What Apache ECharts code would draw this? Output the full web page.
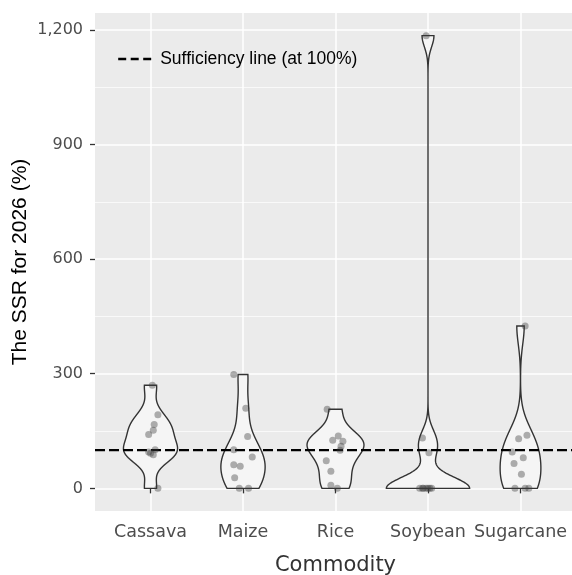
<!DOCTYPE html>
<html>
<head>
<meta charset="utf-8">
<script src="https://cdn.jsdelivr.net/npm/echarts@6/dist/echarts.min.js"></script>
</head>
<body style="margin:0;background:#fff">
<div id="main" style="width:572px;height:575px;"></div>
<script type="text/javascript">
    // data (10 countries per commodity)
    var categories = ['Cassava', 'Maize', 'Rice', 'Soybean', 'Sugarcane'];
    var cassava = [270, 193, 167, 152, 141, 101, 95, 92, 88, 0];
    var maize = [298, 210, 136, 101, 82, 62, 58, 28, 0, 0];
    var rice = [207, 137, 126, 123, 110, 100, 72, 45, 8, 0];
    var soybean = [1185, 132, 93, 0, 0, 0, 0, 0, 0, 0];
    var sugarcane = [425, 139, 130, 95, 80, 65, 37, 0, 0, 0];
    // horizontal jitter of the points (category units)
    var cassavaJit = [0.02, 0.08, 0.04, 0.03, -0.02, 0.05, -0.02, 0, 0.03, 0.08];
    var maizeJit = [-0.10, 0.03, 0.05, -0.10, 0.10, -0.10, -0.03, -0.09, -0.04, 0.06];
    var riceJit = [-0.09, 0.03, -0.03, 0.08, 0.06, 0.05, -0.10, -0.05, -0.05, 0.02];
    var soybeanJit = [-0.02, -0.06, 0.01, -0.09, -0.05, -0.02, 0, 0.02, 0.04, -0.06];
    var sugarcaneJit = [0.05, 0.07, -0.02, -0.09, 0.03, -0.07, 0.01, -0.06, 0.05, 0.09];
    var yTicks = [0, 300, 600, 900, 1200];
    var yMinor = [150, 450, 750, 1050];
    var sufficiency = 100;

    var groups = [cassava, maize, rice, soybean, sugarcane];
    var jitters = [cassavaJit, maizeJit, riceJit, soybeanJit, sugarcaneJit];

    // gaussian kernel density, bandwidth like R's bw.nrd0
    function quantile(s, p) {
        var h = (s.length - 1) * p, lo = Math.floor(h);
        return s[lo] + (h - lo) * ((s[lo + 1] === undefined ? s[lo] : s[lo + 1]) - s[lo]);
    }
    function bwNrd0(x) {
        var n = x.length, mean = 0, v = 0;
        x.forEach(function (d) { mean += d / n; });
        x.forEach(function (d) { v += (d - mean) * (d - mean) / (n - 1); });
        var s = x.slice().sort(function (a, b) { return a - b; });
        var iqr = quantile(s, 0.75) - quantile(s, 0.25);
        var lo = Math.min(Math.sqrt(v), iqr / 1.34);
        if (!lo) lo = Math.sqrt(v) || 1;
        return 0.9 * lo * Math.pow(n, -0.2);
    }
    function dens(x, bw, y) {
        var t = 0;
        x.forEach(function (d) { var u = (y - d) / bw; t += Math.exp(-0.5 * u * u); });
        return t / (x.length * bw * Math.sqrt(2 * Math.PI));
    }
    var profiles = groups.map(function (g) {
        var bw = bwNrd0(g);
        var lo = Math.min.apply(null, g), hi = Math.max.apply(null, g);
        var pts = [];
        for (var k = 0; k < 512; k++) {
            var y = lo + (hi - lo) * k / 511;
            pts.push([y, dens(g, bw, y)]);
        }
        return pts;
    });
    var maxDens = 0;
    profiles.forEach(function (p) { p.forEach(function (q) { maxDens = Math.max(maxDens, q[1]); }); });

    var allVals = [].concat.apply([], groups);
    var dMin = Math.min.apply(null, allVals), dMax = Math.max.apply(null, allVals);
    var pad = 0.05 * (dMax - dMin);

    var points = [];
    groups.forEach(function (g, i) {
        g.forEach(function (v, j) { points.push([i + 1 + jitters[i][j], v]); });
    });

    function fmt(v) { return String(v).replace(/\B(?=(\d{3})+(?!\d))/g, ','); }

    var myChart = echarts.init(document.getElementById('main'));
    var option = {
        animation: false,
        backgroundColor: '#fff',
        grid: {
            left: 95, top: 13, width: 481, height: 498,
            outerBoundsMode: 'none', containLabel: false,
            backgroundColor: '#EBEBEB', show: true, borderWidth: 0
        },
        legend: {
            left: 112, top: 45,
            itemWidth: 33, itemHeight: 14,
            data: ['Sufficiency line (at 100%)'],
            lineStyle: {type: [8, 4.5], width: 2.4},
            itemStyle: {opacity: 0},
            textStyle: {fontFamily: 'Liberation Sans', fontSize: 17.5, color: '#000', padding: [0, 0, 0, 4]}
        },
        xAxis: {
            type: 'value', min: 0.4, max: 5.6,
            name: 'Commodity', nameLocation: 'middle', nameGap: 44, nameMoveOverlap: false,
            nameTextStyle: {fontFamily: 'DejaVu Sans', fontSize: 21, color: '#333'},
            axisLine: {show: false},
            axisTick: {show: true, length: 5, customValues: [1, 2, 3, 4, 5], lineStyle: {color: '#333', width: 1.3}},
            axisLabel: {
                customValues: [1, 2, 3, 4, 5], margin: 12, hideOverlap: false,
                fontFamily: 'DejaVu Sans', fontSize: 17.5, color: '#4d4d4d',
                formatter: function (v) { return categories[Math.round(v) - 1] || ''; }
            },
            splitLine: {show: true, lineStyle: {color: '#fff', width: 1.5}}
        },
        yAxis: [{
            type: 'value', min: dMin - pad, max: dMax + pad,
            name: 'The SSR for 2026 (%)', nameLocation: 'middle', nameGap: 64, nameMoveOverlap: false,
            nameTextStyle: {fontFamily: 'Liberation Sans', fontSize: 21, color: '#000'},
            axisLine: {show: false},
            axisTick: {show: true, length: 5, customValues: yTicks, lineStyle: {color: '#333', width: 1.3}},
            axisLabel: {
                customValues: yTicks, margin: 12,
                fontFamily: 'DejaVu Sans', fontSize: 16, color: '#4d4d4d',
                formatter: fmt
            },
            splitLine: {show: true, lineStyle: {color: '#fff', width: 1.5}}
        }, {
            // minor grid lines only
            type: 'value', min: dMin - pad, max: dMax + pad, position: 'left',
            axisLine: {show: false},
            axisTick: {show: false, customValues: yMinor},
            axisLabel: {show: false},
            splitLine: {show: true, lineStyle: {color: '#fff', width: 0.7}}
        }],
        series: [
            {
                type: 'custom',
                name: 'violin',
                z: 2,
                silent: true,
                data: categories.map(function (c, i) { return [i + 1, i]; }),
                encode: {x: 0},
                renderItem: function (params, api) {
                    var i = api.value(1);
                    var prof = profiles[i];
                    var left = [], right = [];
                    prof.forEach(function (q) {
                        var hw = 0.45 * q[1] / maxDens;
                        left.push(api.coord([i + 1 - hw, q[0]]));
                        right.push(api.coord([i + 1 + hw, q[0]]));
                    });
                    var pts = left.concat(right.reverse());
                    return {
                        type: 'polygon',
                        shape: {points: pts},
                        style: {fill: '#f5f5f5', stroke: '#333', lineWidth: 1.4}
                    };
                }
            },
            {
                type: 'line',
                name: 'Sufficiency line (at 100%)',
                z: 3,
                symbol: 'none',
                data: [[0.4, sufficiency], [5.6, sufficiency]],
                lineStyle: {color: '#000', width: 2.2, type: [10, 4]},
                itemStyle: {color: '#000'}
            },
            {
                type: 'scatter',
                name: 'points',
                z: 4,
                symbolSize: 7,
                data: points,
                itemStyle: {color: 'rgba(60,60,60,0.5)'}
            }
        ]
    };
    myChart.setOption(option);
</script>
</body>
</html>
